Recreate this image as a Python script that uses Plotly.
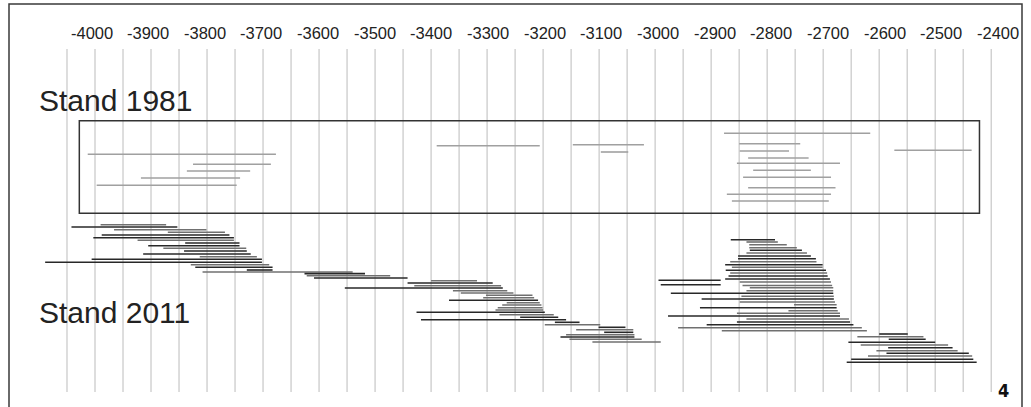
import plotly.graph_objects as go

# ---------------- data (years BC as negative numbers) ----------------
tick_years = [-4000, -3900, -3800, -3700, -3600, -3500, -3400, -3300, -3200,
              -3100, -3000, -2900, -2800, -2700, -2600, -2500, -2400]
grid_years = list(range(-4050, -2399, 50))

# Stand 1981 (grey bars inside the box)
s1981_start = [-4013, -3825, -3836, -3918, -3997, -3390, -3147, -3097,
               -2877, -2850, -2849, -2834, -2854, -2825, -2843, -2834, -2872, -2863, -2573]
s1981_end = [-3677, -3686, -3723, -3741, -3747, -3206, -3020, -3048,
             -2616, -2741, -2761, -2726, -2670, -2722, -2686, -2678, -2686, -2690, -2435]
s1981_row = [154.3, 164.3, 171, 178, 185.3, 145.7, 144.7, 152,
             133.3, 143.7, 151, 158, 163.3, 170.3, 177.3, 187.7, 194.3, 201, 150.3]

# Stand 2011 (tone: 0 = black, 1 = dark grey)
s2011_start = [
    -3990, -4042, -3966, -3870, -3988, -4003, -3924, -3839, -3905, -3878, -3841, -3914,
    -3813, -4006, -4089, -3829, -3821, -3729, -3808,
    -3626, -3622, -3609, -3400, -3442, -3430, -3554, -3361, -3347, -3302, -3307, -3368,
    -3265, -3273, -3281, -3285, -3426, -3278, -3241, -3418, -3179, -3197, -3101, -3141,
    -3091, -3159, -3169, -3153, -3112,
    -2865, -2837, -2832, -2832, -2831, -2837, -2852, -2852, -2866, -2875, -2863, -2874,
    -2866, -2869, -2875, -2994, -2849, -2990, -2844, -2831, -2837, -2972, -2846, -2917,
    -2849, -2752, -2920, -2762, -2854, -2977, -2837, -2854, -2908, -2959, -2881,
    -2600, -2639, -2583, -2655, -2633, -2584, -2605, -2587, -2620, -2650, -2658]
s2011_end = [
    -3873, -3853, -3801, -3768, -3760, -3752, -3752, -3742, -3742, -3730, -3729, -3722,
    -3711, -3702, -3702, -3689, -3683, -3683, -3540,
    -3518, -3473, -3442, -3318, -3290, -3275, -3272, -3264, -3253, -3219, -3216, -3209,
    -3206, -3203, -3201, -3200, -3197, -3181, -3173, -3159, -3135, -3098, -3053, -3039,
    -3039, -3037, -3037, -3024, -2990,
    -2786, -2781, -2765, -2747, -2738, -2729, -2722, -2713, -2712, -2701, -2701, -2695,
    -2693, -2692, -2688, -2883, -2686, -2883, -2684, -2682, -2682, -2682, -2681, -2681,
    -2679, -2676, -2676, -2674, -2670, -2670, -2654, -2652, -2646, -2631, -2622,
    -2549, -2521, -2517, -2500, -2477, -2469, -2460, -2440, -2434, -2432, -2426]
s2011_row = [
    224.7, 227, 229.7, 232.3, 235, 237.7, 240.3, 243, 245.7, 248.3, 251, 254,
    256.7, 259.3, 262.3, 264.7, 267.3, 270, 272,
    273.6, 275.7, 278, 280.7, 283, 285.7, 288, 290.7, 293, 295.3, 297.7, 300.3,
    302.7, 305, 307.7, 310, 312.3, 314.7, 317.3, 319.7, 322.3, 324.7, 327.3, 329.7,
    332.3, 334.7, 337, 339.3, 342,
    239.7, 242, 244.7, 247.7, 250.3, 253, 256, 258.7, 261.7, 264.7, 267.3, 270.3,
    273, 276, 279, 280.3, 282, 284.7, 285.5, 287.7, 290.7, 293.3, 296.3, 299,
    302, 304.7, 307.7, 310.7, 313.3, 316, 319, 322, 324.7, 327.7, 330.7,
    334, 336.7, 339.3, 342.3, 345, 347.7, 350.7, 353.3, 356, 359.3, 362.3]
s2011_tone = [
    1, 0, 1, 1, 0, 0, 1, 0, 0, 1, 0, 0,
    1, 0, 0, 1, 0, 0, 1,
    0, 1, 0, 1, 0, 1, 0, 1, 1, 1, 1, 0,
    1, 1, 1, 1, 0, 1, 0, 0, 0, 1, 0, 1,
    0, 1, 0, 1, 1,
    0, 1, 1, 1, 0, 1, 0, 0, 1, 0, 1, 0,
    1, 0, 0, 0, 1, 0, 1, 1, 1, 0, 1, 0,
    1, 1, 0, 1, 1, 0, 1, 0, 0, 1, 1,
    0, 1, 0, 0, 1, 0, 1, 0, 1, 0, 0]

box_1981 = dict(start=-4028, end=-2421, top=120.7, bottom=213.3)
grid_top, grid_bottom = 49, 392


def segs(starts, ends, rows):
    xs, ys = [], []
    for a, b, r in zip(starts, ends, rows):
        xs += [a, b, None]
        ys += [r, r, None]
    return xs, ys


fig = go.Figure()

# grid lines
gx, gy = [], []
for g in grid_years:
    gx += [g, g, None]
    gy += [grid_top, grid_bottom, None]
fig.add_trace(go.Scatter(x=gx, y=gy, mode="lines",
                         line=dict(color="#cbcbcb", width=1.3), hoverinfo="skip"))

# 1981 bars
x81, y81 = segs(s1981_start, s1981_end, s1981_row)
fig.add_trace(go.Scatter(x=x81, y=y81, mode="lines",
                         line=dict(color="#a0a0a0", width=1.6), hoverinfo="skip"))

# 2011 bars by tone
for tone, col in [(1, "#707070"), (0, "#282828")]:
    idx = [i for i, t in enumerate(s2011_tone) if t == tone]
    xs, ys = segs([s2011_start[i] for i in idx], [s2011_end[i] for i in idx],
                  [s2011_row[i] for i in idx])
    fig.add_trace(go.Scatter(x=xs, y=ys, mode="lines",
                             line=dict(color=col, width=1.6), hoverinfo="skip"))

# box around 1981
fig.add_shape(type="rect", xref="x", yref="y",
              x0=box_1981["start"], x1=box_1981["end"],
              y0=box_1981["top"], y1=box_1981["bottom"],
              line=dict(color="#333333", width=1.5), layer="above")

# outer frame (open at bottom)
W, H = 1031, 407
fl, fr, ft = 9 / W, 1022 / W, 1 - 4 / H
fig.add_shape(type="path", xref="paper", yref="paper",
              path=f"M {fl} -0.05 L {fl} {ft} L {fr} {ft} L {fr} -0.05",
              line=dict(color="#3a3a3a", width=1.5))

# tick labels along the top (labels in the source are spaced slightly wider than the grid)
for i, t in enumerate(tick_years):
    fig.add_annotation(x=t, y=33, xref="x", yref="y", text=str(t), showarrow=False,
                       xshift=-3.5 + 0.65 * i,
                       font=dict(family="Liberation Sans, Arial", size=16.5, color="#222222"),
                       xanchor="center", yanchor="middle")

fig.add_annotation(x=36.5 / W, y=100, xref="paper", yref="y", text="Stand 1981",
                   showarrow=False, xanchor="left", yanchor="middle",
                   font=dict(family="Liberation Sans, Arial", size=30, color="#222222"))
fig.add_annotation(x=36.5 / W, y=312.5, xref="paper", yref="y", text="Stand 2011",
                   showarrow=False, xanchor="left", yanchor="middle",
                   font=dict(family="Liberation Sans, Arial", size=30, color="#222222"))
fig.add_annotation(x=1003 / W, y=390, xref="paper", yref="y", text="<b>4</b>",
                   showarrow=False, xanchor="center", yanchor="middle",
                   font=dict(family="DejaVu Sans Condensed, DejaVu Sans", size=18, color="#111111"))

fig.update_layout(
    width=W, height=H, margin=dict(l=0, r=0, t=0, b=0),
    paper_bgcolor="white", plot_bgcolor="white", showlegend=False,
    xaxis=dict(range=[-4169.6, -2329.0], visible=False, fixedrange=True),
    yaxis=dict(range=[H, 0], visible=False, fixedrange=True),
    hovermode=False,
)

fig.write_html("out.html", config={"displayModeBar": False, "staticPlot": True},
               post_script="document.body.style.margin='0';document.body.style.overflow='hidden';")
